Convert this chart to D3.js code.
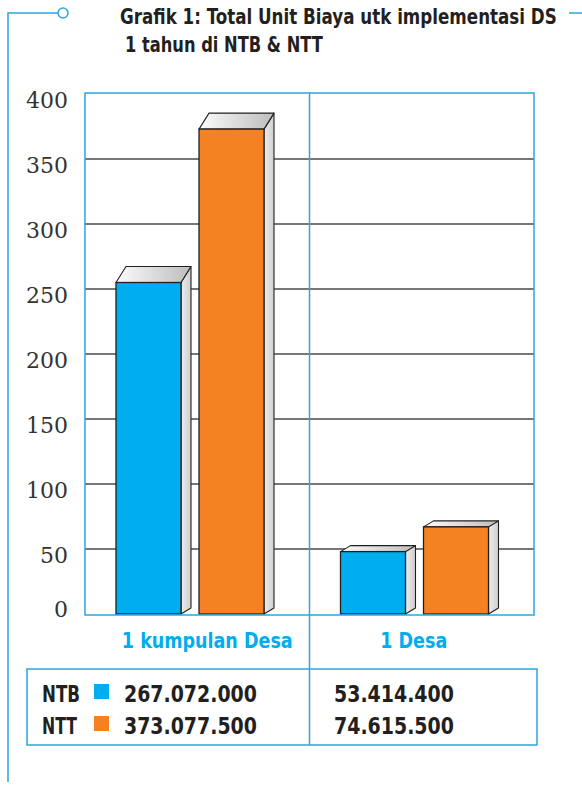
<!DOCTYPE html>
<html>
<head>
<meta charset="utf-8">
<script src="https://cdn.jsdelivr.net/npm/d3@7"></script>
<style>
  body { margin: 0; background: #fff; }
  svg { display: block; }
</style>
</head>
<body>
<div id="chart-container"></div>
<script>
// data
var categories = ["1 kumpulan Desa", "1 Desa"];
var series = ["NTB", "NTT"];
var ntbValues = [255, 48];
var nttValues = [373, 67];
var yTicks = [0, 50, 100, 150, 200, 250, 300, 350, 400];
var ntbLabels = ["267.072.000", "53.414.400"];
var nttLabels = ["373.077.500", "74.615.500"];

var width = 582, height = 787;
var blue = "#00aeef", orange = "#f48222", frameBlue = "#2aa7df", ink = "#231f20";
var condensed = "'DejaVu Sans Condensed', 'DejaVu Sans', sans-serif";

// 3d depth of the boxes (top shift per category, bottom shift)
var depthX = 10, depthTop = [16, 6], depthBottom = 6;

var svg = d3.select("#chart-container")
    .append("svg")
    .attr("width", width)
    .attr("height", height);

var defs = svg.append("defs");
var tg = defs.append("linearGradient").attr("id", "topGrad");
tg.append("stop").attr("offset", "0%").attr("stop-color", "#fbfbfb");
tg.append("stop").attr("offset", "100%").attr("stop-color", "#bdbdbd");
var sg = defs.append("linearGradient").attr("id", "sideGrad");
sg.append("stop").attr("offset", "0%").attr("stop-color", "#ececec");
sg.append("stop").attr("offset", "100%").attr("stop-color", "#cfcfcf");

var y = d3.scaleLinear().domain([0, 400]).range([614, 94]);
var x = d3.scaleBand().domain(categories).range([85, 534]);
var xs = d3.scaleBand().domain(series).range([31, 179]).paddingInner(0.217).paddingOuter(0);

// condensed bold text, squeezed sideways to the width seen in the print
function boldText(g, str, px, py, size, len, color, anchor) {
    var t = g.append("text")
        .attr("font-family", condensed)
        .attr("font-weight", "bold")
        .attr("font-size", size)
        .attr("fill", color)
        .attr("text-anchor", anchor || "start")
        .text(str);
    var natural = t.node().getComputedTextLength();
    var sx = natural > 0 ? len / natural : 1;
    t.attr("transform", "translate(" + px + "," + py + ") scale(" + sx + ",1)");
    return t;
}

// decoration lines
svg.append("path")
    .attr("d", "M8,782 V13 H58")
    .attr("fill", "none").attr("stroke", frameBlue).attr("stroke-width", 1.5);
svg.append("circle")
    .attr("cx", 63).attr("cy", 13).attr("r", 5)
    .attr("fill", "#fff").attr("stroke", frameBlue).attr("stroke-width", 1.5);
svg.append("line")
    .attr("x1", 569).attr("x2", 582).attr("y1", 13).attr("y2", 13)
    .attr("stroke", frameBlue).attr("stroke-width", 1.5);

// title
boldText(svg, "Grafik 1: Total Unit Biaya utk implementasi DS", 120, 24, 21, 437, ink);
boldText(svg, "1 tahun di NTB & NTT", 125, 52, 21, 198, ink);

// gridlines
svg.append("g").selectAll("line")
    .data(yTicks.filter(function (d) { return d > 0 && d < 400; }))
    .enter().append("line")
    .attr("x1", 85).attr("x2", 534)
    .attr("y1", function (d) { return y(d); })
    .attr("y2", function (d) { return y(d); })
    .attr("stroke", "#4a4a4a").attr("stroke-width", 1.5);

// y axis labels
svg.append("g").selectAll("text")
    .data(yTicks)
    .enter().append("text")
    .attr("x", 68)
    .attr("y", function (d) { return d === 0 ? y(d) + 3 : y(d) + 14; })
    .attr("text-anchor", "end")
    .attr("font-family", "'DejaVu Serif', serif")
    .attr("font-size", 22)
    .attr("fill", "#333")
    .text(function (d) { return d; });

// bars
var barData = [];
categories.forEach(function (c, i) {
    barData.push({ cat: c, ser: "NTB", value: ntbValues[i], color: blue, dt: depthTop[i] });
    barData.push({ cat: c, ser: "NTT", value: nttValues[i], color: orange, dt: depthTop[i] });
});

var bars = svg.append("g").selectAll("g.bar")
    .data(barData)
    .enter().append("g").attr("class", "bar");

function x0(d) { return x(d.cat) + xs(d.ser); }
function x1(d) { return x0(d) + xs.bandwidth(); }

bars.append("path")
    .attr("d", function (d) {
        var yt = y(d.value), yb = y(0);
        return "M" + x1(d) + "," + yt + "L" + (x1(d) + depthX) + "," + (yt - d.dt) +
            "L" + (x1(d) + depthX) + "," + (yb - depthBottom) + "L" + x1(d) + "," + yb + "Z";
    })
    .attr("fill", "url(#sideGrad)")
    .attr("stroke", ink).attr("stroke-width", 1.1).attr("stroke-linejoin", "round");

bars.append("path")
    .attr("d", function (d) {
        var yt = y(d.value);
        return "M" + x0(d) + "," + yt + "L" + (x0(d) + depthX) + "," + (yt - d.dt) +
            "L" + (x1(d) + depthX) + "," + (yt - d.dt) + "L" + x1(d) + "," + yt + "Z";
    })
    .attr("fill", "url(#topGrad)")
    .attr("stroke", ink).attr("stroke-width", 1.1).attr("stroke-linejoin", "round");

bars.append("rect")
    .attr("x", x0)
    .attr("y", function (d) { return y(d.value); })
    .attr("width", xs.bandwidth())
    .attr("height", function (d) { return y(0) - y(d.value); })
    .attr("fill", function (d) { return d.color; })
    .attr("stroke", ink).attr("stroke-width", 1.3);

// frame
svg.append("rect")
    .attr("x", 85).attr("y", 93)
    .attr("width", 534 - 85).attr("height", 615 - 93)
    .attr("fill", "none").attr("stroke", frameBlue).attr("stroke-width", 1.5);
svg.append("line")
    .attr("x1", x("1 Desa")).attr("x2", x("1 Desa"))
    .attr("y1", 93).attr("y2", 745)
    .attr("stroke", frameBlue).attr("stroke-width", 1.5);

// category labels
var catLen = [171, 67], catShift = [10, -8];
categories.forEach(function (c, i) {
    boldText(svg, c, x(c) + x.bandwidth() / 2 + catShift[i], 648, 22, catLen[i], blue, "middle");
});

// value table
svg.append("rect")
    .attr("x", 27).attr("y", 669)
    .attr("width", 537 - 27).attr("height", 745 - 669)
    .attr("fill", "none").attr("stroke", frameBlue).attr("stroke-width", 1.5);

var rows = [
    { name: series[0], color: blue, labels: ntbLabels, base: 702, nameLen: 38 },
    { name: series[1], color: orange, labels: nttLabels, base: 734, nameLen: 35 }
];
rows.forEach(function (r) {
    boldText(svg, r.name, 42, r.base, 23, r.nameLen, ink);
    svg.append("rect")
        .attr("x", 94).attr("y", r.base - 18)
        .attr("width", 15).attr("height", 15)
        .attr("fill", r.color);
    boldText(svg, r.labels[0], 124, r.base, 23, 133, ink);
    boldText(svg, r.labels[1], 334, r.base, 23, 120, ink);
});
</script>
</body>
</html>
